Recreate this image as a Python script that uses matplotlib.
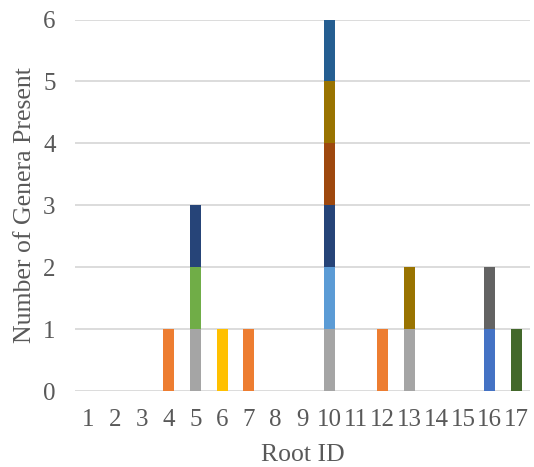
import numpy as np
import matplotlib
matplotlib.use('Agg')
import matplotlib.pyplot as plt

# root IDs along the x axis
roots = list(range(1, 18))

# presence (1) of each genus per root, stacked in this order
genus_colors = ['#4472C4', '#ED7D31', '#A5A5A5', '#FFC000', '#5B9BD5', '#70AD47',
                '#264478', '#9E480E', '#636363', '#997300', '#255E91', '#43682B']
genus_roots = [
    [16],           # genus 1
    [4, 7, 12],     # genus 2
    [5, 10, 13],    # genus 3
    [6],            # genus 4
    [10],           # genus 5
    [5],            # genus 6
    [5, 10],        # genus 7
    [10],           # genus 8
    [16],           # genus 9
    [10, 13],       # genus 10
    [10],           # genus 11
    [17],           # genus 12
]

plt.rcParams['font.family'] = ['Liberation Serif', 'DejaVu Serif']
text_c = '#595959'

fig = plt.figure(figsize=(5.34, 4.67), dpi=100)
ax = fig.add_axes([0.1404, 0.1627, 0.852, 0.7955])

bottom = np.zeros(len(roots))
for col, present in zip(genus_colors, genus_roots):
    vals = np.array([1.0 if r in present else 0.0 for r in roots])
    ax.bar(roots, vals, width=0.41, bottom=bottom, color=col, zorder=3)
    bottom += vals

ax.set_xlim(0.5, 17.5)
ax.set_ylim(0, 6)
ax.set_xticks(roots)
ax.set_yticks(range(0, 7))
ax.grid(axis='y', color='#D9D9D9', lw=1.3, zorder=0)
for s in ax.spines.values():
    s.set_visible(False)
ax.tick_params(length=0, colors=text_c, labelsize=18)
ax.tick_params(axis='x', pad=13)
ax.tick_params(axis='y', pad=14)

ax.set_xlabel('Root ID', color=text_c, fontsize=18.5, labelpad=9)
ax.set_ylabel('Number of Genera Present', color=text_c, fontsize=18.5, labelpad=5)

fig.savefig('out.png', dpi=100)
